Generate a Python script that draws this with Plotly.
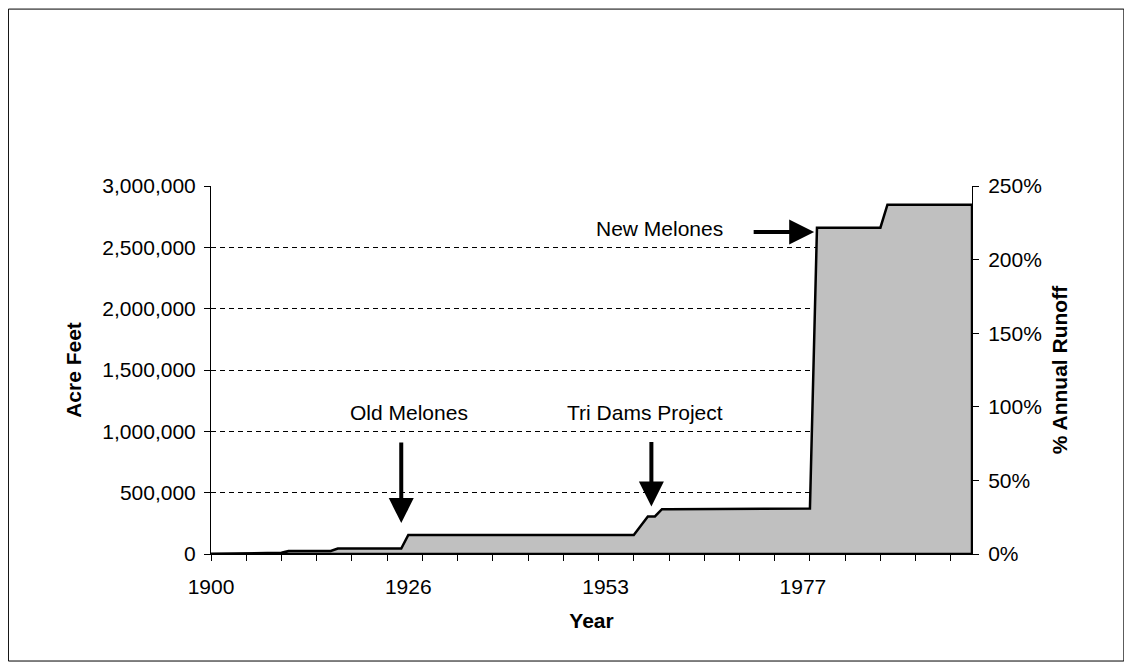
import plotly.graph_objects as go

# ---------------- data ----------------
years = [
    1900, 1901, 1902, 1903, 1904, 1905, 1906, 1907, 1908, 1909,
    1910, 1910, 1911, 1912, 1913, 1914, 1915, 1916, 1916, 1917,
    1918, 1919, 1920, 1921, 1922, 1923, 1924, 1925, 1926, 1927,
    1928, 1929, 1930, 1931, 1932, 1933, 1934, 1935, 1936, 1937,
    1938, 1938, 1939, 1940, 1941, 1942, 1943, 1944, 1945, 1946,
    1947, 1948, 1949, 1950, 1951, 1952, 1953, 1954, 1955, 1956,
    1957, 1957, 1958, 1958, 1959, 1960, 1961, 1962, 1963, 1963,
    1964, 1965, 1966, 1967, 1968, 1969, 1970, 1970, 1971, 1972,
    1973, 1974, 1975, 1976, 1977, 1978, 1979, 1980, 1981, 1982,
    1983, 1984, 1985, 1986, 1987, 1988, 1989, 1990, 1991, 1992,
    1993, 1994, 1995, 1996, 1997, 1998, 1999, 2000, 2001,
]

storage_af = [
    2000, 2000, 2000, 2000, 3000, 5000, 6000, 7000, 8000, 9000,
    10000, 25000, 25000, 25000, 25000, 25000, 25000, 25000, 45000, 45000,
    45000, 45000, 45000, 45000, 45000, 45000, 45000, 45000, 155000, 155000,
    155000, 155000, 155000, 155000, 155000, 155000, 155000, 155000, 155000, 155000,
    155000, 155000, 155000, 155000, 155000, 155000, 155000, 155000, 155000, 155000,
    155000, 155000, 155000, 155000, 155000, 155000, 155000, 155000, 155000, 155000,
    155000, 230000, 306000, 306000, 365000, 365000, 365000, 365000, 365000, 365000,
    365000, 365000, 365000, 365000, 365000, 365000, 370000, 370000, 370000, 370000,
    370000, 370000, 370000, 370000, 370000, 370000, 2660000, 2660000, 2660000, 2660000,
    2660000, 2660000, 2660000, 2660000, 2660000, 2660000, 2848000, 2848000, 2848000, 2848000,
    2848000, 2848000, 2848000, 2848000, 2848000, 2848000, 2848000, 2848000, 2848000,
]

annual_runoff_af = 1200000  # 3,000,000 AF on the left axis = 250 % on the right axis

left_tick_values = [0, 500000, 1000000, 1500000, 2000000, 2500000, 3000000]
left_tick_text = ["0", "500,000", "1,000,000", "1,500,000", "2,000,000", "2,500,000", "3,000,000"]
right_tick_values = [0, 50, 100, 150, 200, 250]
right_tick_text = ["0%", "50%", "100%", "150%", "200%", "250%"]

label_interval = 28   # a year label every 28 categories
tick_interval = 5     # a tick mark every 5 categories

event_names = ["Old Melones", "Tri Dams Project", "New Melones"]

# ---------------- figure ----------------
W, H = 1116, 654
ML, MR, MT, MB = 203, 152.3, 177.7, 107.7
PW, PH = W - ML - MR, H - MT - MB

FONT = "Liberation Sans, Arial, Helvetica, sans-serif"
FS = 21

n = len(years)
idx = list(range(n))
x_closed = idx + [idx[-1], idx[0]]
y_closed = storage_af + [0, 0]
pct = [v / annual_runoff_af * 100 for v in storage_af]

fig = go.Figure()
fig.add_trace(go.Scatter(
    x=x_closed, y=y_closed, mode="lines", fill="toself",
    fillcolor="#C0C0C0", line=dict(color="black", width=2.5),
    hoverinfo="skip", showlegend=False,
))
fig.add_trace(go.Scatter(
    x=idx, y=pct, mode="lines", line=dict(width=0, color="rgba(0,0,0,0)"),
    xaxis="x2", yaxis="y2", hoverinfo="skip", showlegend=False,
))

label_pos = list(range(0, n, label_interval))
tick_pos = list(range(0, n, tick_interval))

fig.update_layout(
    width=W, height=H, autosize=False,
    margin=dict(l=ML, r=MR, t=MT, b=MB, pad=0),
    paper_bgcolor="white", plot_bgcolor="white",
    font=dict(family=FONT, size=FS, color="black"),
    showlegend=False,
    xaxis=dict(
        range=[0, n - 1], tickmode="array", tickvals=label_pos,
        ticktext=[str(years[i]) for i in label_pos],
        ticks="", showline=True, linecolor="black", linewidth=1,
        showgrid=False, zeroline=False, automargin=False,
        ticklabelstandoff=14,
        title=dict(text="<b>Year</b>", font=dict(size=FS), standoff=16),
    ),
    xaxis2=dict(
        range=[0, n - 1], overlaying="x", anchor="y", side="bottom",
        tickmode="array", tickvals=tick_pos, showticklabels=False,
        ticks="outside", ticklen=6, tickwidth=1, tickcolor="black",
        showline=False, showgrid=False, zeroline=False, automargin=False,
    ),
    yaxis=dict(
        range=[0, 3000000], tickmode="array", tickvals=left_tick_values,
        ticktext=left_tick_text, ticks="outside", ticklen=6, tickcolor="black",
        showline=True, linecolor="black", linewidth=1,
        showgrid=True, gridcolor="black", gridwidth=1, griddash="5px,4px",
        zeroline=False, automargin=False, ticklabelstandoff=4,
        title=dict(text="<b>Acre Feet</b>", font=dict(size=FS), standoff=15),
    ),
    yaxis2=dict(
        range=[0, 250], overlaying="y", side="right", anchor="x2",
        tickmode="array", tickvals=right_tick_values, ticktext=right_tick_text,
        ticks="outside", ticklen=6, tickcolor="black",
        showline=True, linecolor="black", linewidth=1,
        showgrid=False, zeroline=False, automargin=False, ticklabelstandoff=5,
        title=dict(text="<b>% Annual Runoff</b>", font=dict(size=FS), standoff=11),
    ),
)

# event labels and arrows
text_anns = [
    dict(x=28.1, y=1150000, text=event_names[0]),
    dict(x=61.6, y=1150000, text=event_names[1]),
    dict(x=63.7, y=2650000, text=event_names[2]),
]
for a in text_anns:
    fig.add_annotation(x=a["x"], y=a["y"], xref="x", yref="y", text=a["text"],
                       showarrow=False, font=dict(size=FS), xanchor="center", yanchor="middle")

arrows = [
    dict(x=27, y=252000, ax=0, ay=-82),
    dict(x=62.5, y=387000, ax=0, ay=-66),
    dict(x=85.6, y=2625000, ax=-62, ay=0),
]
for a in arrows:
    fig.add_annotation(x=a["x"], y=a["y"], xref="x", yref="y", text="",
                       showarrow=True, ax=a["ax"], ay=a["ay"], axref="pixel", ayref="pixel",
                       arrowhead=2, arrowsize=1.25, arrowwidth=4, arrowcolor="black",
                       standoff=0, startstandoff=0)

# outer frame around the whole chart
def px_x(p):
    return (p - ML) / PW

def px_y(p):
    return (H - MB - p) / PH

fig.add_shape(type="rect", xref="paper", yref="paper",
              x0=px_x(0.5), x1=px_x(W - 0.5), y0=px_y(H - 0.5), y1=px_y(0.5),
              line=dict(color="black", width=1), fillcolor="rgba(0,0,0,0)", layer="below")

fig.write_html("out.html")
